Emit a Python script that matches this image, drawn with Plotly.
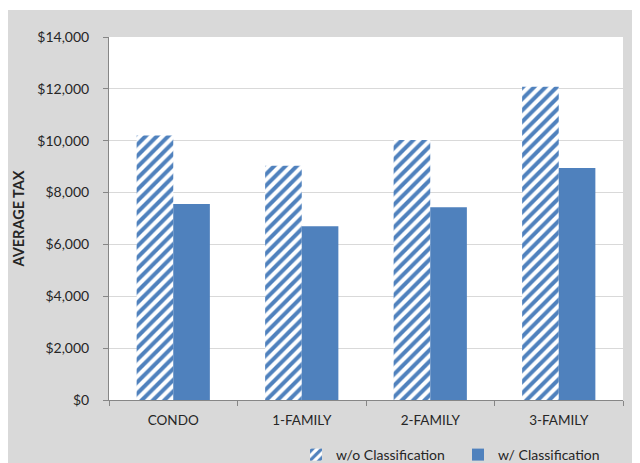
import plotly.graph_objects as go

categories = ["CONDO", "1-FAMILY", "2-FAMILY", "3-FAMILY"]
without_class = [10200, 9030, 10030, 12080]
with_class = [7560, 6700, 7430, 8950]
series_names = ["w/o Classification", "w/ Classification"]
y_ticks = [0, 2000, 4000, 6000, 8000, 10000, 12000, 14000]
y_tick_labels = ["$0", "$2,000", "$4,000", "$6,000", "$8,000", "$10,000", "$12,000", "$14,000"]

BLUE = "#4F81BD"
GRAY_BG = "#D9D9D9"
FONT = "Lato"
TXT = "#262626"

fig = go.Figure()
fig.add_trace(go.Bar(
    x=categories, y=without_class, name=series_names[0],
    marker=dict(color="white", line=dict(width=0),
                pattern=dict(shape="/", fgcolor=BLUE, bgcolor="white", fgopacity=1,
                             size=8, solidity=0.5, fillmode="replace")),
))
fig.add_trace(go.Bar(
    x=categories, y=with_class, name=series_names[1],
    marker=dict(color=BLUE, line=dict(width=0)),
))

# page has an 8px body margin, so the figure sits at (8, 8) in the window
W, H = 632, 455
L, R, T, B = 101, 17, 29, 63
pw, ph = W - L - R, H - T - B

fig.add_shape(type="rect", xref="paper", yref="paper",
              x0=-L / pw - 0.05, x1=(W - L) / pw + 0.05,
              y0=-(B + 5) / ph, y1=(H - B - 2) / ph,
              fillcolor=GRAY_BG, line=dict(width=0), layer="below")
fig.add_shape(type="rect", xref="paper", yref="paper",
              x0=0, x1=1, y0=0, y1=1,
              fillcolor="white", line=dict(width=0), layer="below")

fig.update_layout(
    width=W, height=H,
    margin=dict(l=L, r=R, t=T, b=B, autoexpand=False),
    paper_bgcolor="white", plot_bgcolor="white",
    barmode="group", bargap=0.43, bargroupgap=0,
    font=dict(family=FONT, size=13, color=TXT),
    showlegend=True,
    legend=dict(orientation="h", x=(288 - L) / pw, xanchor="left",
                y=-(447 - (H - B)) / ph, yanchor="middle",
                font=dict(family=FONT, size=14, color=TXT),
                bgcolor="rgba(0,0,0,0)", entrywidth=117, entrywidthmode="pixels",
                itemwidth=30, tracegroupgap=0),
    xaxis=dict(showline=True, linecolor="#868686", linewidth=1,
               ticks="outside", ticklen=5, tickcolor="#868686", tickson="boundaries",
               tickfont=dict(family=FONT, size=13.5, color=TXT),
               ticklabelstandoff=8,
               showgrid=False, zeroline=False),
    yaxis=dict(range=[0, 14000], tickvals=y_ticks, ticktext=y_tick_labels,
               showline=True, linecolor="#868686", linewidth=1,
               ticks="outside", ticklen=5, tickcolor="#868686",
               showgrid=True, gridcolor="#D9D9D9", gridwidth=1,
               zeroline=False, ticklabelstandoff=11,
               tickfont=dict(family=FONT, size=14, color=TXT),
               title=dict(text="<b>AVERAGE TAX</b>", standoff=9,
                          font=dict(family=FONT, size=14.5, color=TXT))),
)

fig.write_html("out.html")
